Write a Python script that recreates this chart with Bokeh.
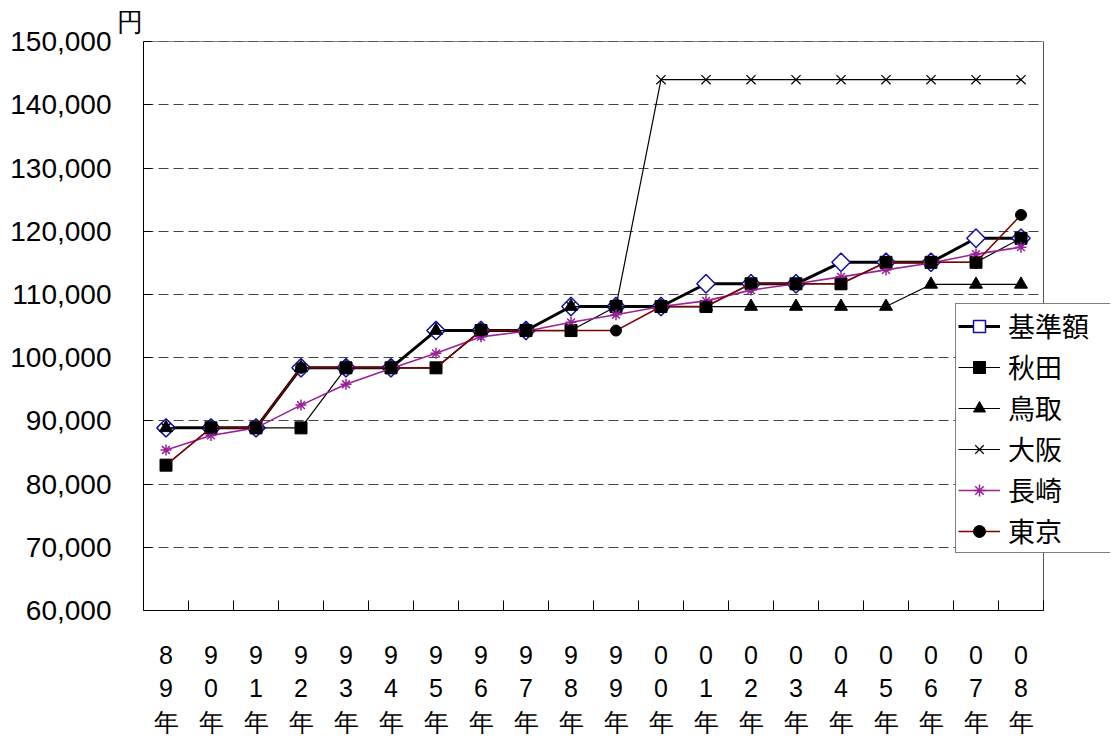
import math
from bokeh.plotting import figure
from bokeh.models import (FixedTicker, NumeralTickFormatter, Legend, LegendItem,
                          Range1d, Grid, Title, BoxAnnotation)
from bokeh.embed import file_html
from bokeh.resources import INLINE

# ---- data ----
years = ["89", "90", "91", "92", "93", "94", "95", "96", "97", "98",
         "99", "00", "01", "02", "03", "04", "05", "06", "07", "08"]
tick_labels = [y[0] + "\n" + y[1] + "\n年" for y in years]

kijun = [88900, 88900, 88900, 98400, 98400, 98400, 104300, 104300, 104300, 108100,
         108100, 108100, 111700, 111700, 111700, 115100, 115100, 115100, 118900, 118900]
akita = [83000, 88900, 88900, 88900, 98400, 98400, 98400, 104300, 104300, 104300,
         108100, 108100, 108100, 111700, 111700, 111700, 115100, 115100, 115100, 118900]
tottori = [88900, 88900, 88900, 98400, 98400, 98400, 104300, 104300, 104300, 108100,
           108100, 108100, 108100, 108100, 108100, 108100, 108100, 111600, 111600, 111600]
osaka = [88900, 88900, 88900, 98400, 98400, 98400, 98400, 104300, 104300, 108100,
         108100, 144000, 144000, 144000, 144000, 144000, 144000, 144000, 144000, 144000]
nagasaki = [85400, 87700, 88900, 92500, 95800, 98300, 100700, 103300, 104200, 105600,
            106800, 108100, 109000, 110700, 111700, 112800, 113900, 115000, 116400, 117500]
tokyo = [83000, 88900, 88900, 98400, 98400, 98400, 98400, 104300, 104300, 104300,
         104300, 108100, 108100, 111700, 111700, 111700, 115100, 115100, 115100, 122600]

series_names = ["基準額", "秋田", "鳥取", "大阪", "長崎", "東京"]
y_ticks = [60000, 70000, 80000, 90000, 100000, 110000, 120000, 130000, 140000, 150000]
unit_label = "円"

x = list(range(len(years)))
n = len(years)
cat_px = 45
frame_w = 967
x_end = -0.5 + frame_w / cat_px

p = figure(frame_width=frame_w, frame_height=569, output_backend="svg", toolbar_location=None,
           x_range=Range1d(-0.5, x_end), y_range=Range1d(60000, 150040),
           min_border_left=143, min_border_right=0, min_border_top=41, min_border_bottom=128)
p.background_fill_color = "white"
p.border_fill_color = "white"
p.outline_line_color = None

# x axis
p.xaxis.ticker = FixedTicker(ticks=x, minor_ticks=[i - 0.5 for i in range(n + 1)])
p.xaxis.bounds = (-0.5, n - 0.5)
p.xaxis.major_label_overrides = {i: lab for i, lab in zip(x, tick_labels)}
p.xaxis.major_tick_line_color = None
p.xaxis.minor_tick_in = 10
p.xaxis.minor_tick_out = 0
p.xaxis.minor_tick_line_color = "black"
p.xaxis.axis_line_color = "black"
p.xaxis.major_label_standoff = 24
p.xaxis.major_label_text_font = "Liberation Sans"
p.xaxis.major_label_text_font_size = "25px"
p.xaxis.major_label_text_color = "black"
p.xgrid.visible = False

# y axis
p.yaxis.ticker = FixedTicker(ticks=y_ticks)
p.yaxis.bounds = (60000, 150000)
p.yaxis.formatter = NumeralTickFormatter(format="0,0")
p.yaxis.major_tick_in = 8
p.yaxis.major_tick_out = 0
p.yaxis.minor_tick_line_color = None
p.yaxis.axis_line_color = "black"
p.yaxis.major_tick_line_color = "black"
p.yaxis.major_label_standoff = 32
p.yaxis.major_label_text_font = "Liberation Sans"
p.yaxis.major_label_text_font_size = "28px"
p.yaxis.major_label_text_color = "black"
p.ygrid.grid_line_color = "#444444"
p.ygrid.grid_line_dash = "10 5"
p.ygrid.grid_line_width = 1

has_cross = True
try:
    p.ygrid.cross_bounds = (-0.5, n - 0.5)
except Exception:
    has_cross = False

if not has_cross:
    p.add_layout(BoxAnnotation(left=n - 0.5, fill_color="white", fill_alpha=1,
                               line_color=None, level="underlay"))

# plot-area border: top and right edges
top_edge = Grid(dimension=1, ticker=FixedTicker(ticks=[150000]),
                grid_line_color="#111111", grid_line_width=1)
right_edge = Grid(dimension=0, ticker=FixedTicker(ticks=[n - 0.5]),
                  grid_line_color="#555555", grid_line_width=1)
if has_cross:
    top_edge.cross_bounds = (-0.5, n - 0.5)
    right_edge.cross_bounds = (60000, 150000)
p.add_layout(top_edge)
p.add_layout(right_edge)

# series
r = []
l0 = p.line(x, kijun, line_color="black", line_width=3)
s0 = p.scatter(x, kijun, marker="square", angle=math.pi / 4, size=13,
               fill_color="white", line_color="#1010a0", line_width=1.5)
r.append([l0, s0])

l1 = p.line(x, akita, line_color="black", line_width=1.2)
s1 = p.scatter(x, akita, marker="square", size=12, fill_color="black", line_color="black")
r.append([l1, s1])

l2 = p.line(x, tottori, line_color="black", line_width=1.2)
s2 = p.scatter(x, tottori, marker="triangle", size=13, fill_color="black", line_color="black")
r.append([l2, s2])

l3 = p.line(x, osaka, line_color="black", line_width=1.2)
s3 = p.scatter(x, osaka, marker="x", size=13, line_color="black", line_width=1.2)
r.append([l3, s3])

l4 = p.line(x, nagasaki, line_color="#992299", line_width=1.6)
s4 = p.scatter(x, nagasaki, marker="asterisk", size=11, line_color="#992299", line_width=1.5)
r.append([l4, s4])

l5 = p.line(x, tokyo, line_color="#800000", line_width=1.5)
s5 = p.scatter(x, tokyo, marker="circle", size=11, fill_color="black", line_color="black")
r.append([l5, s5])

items = [LegendItem(label=nm, renderers=rr) for nm, rr in zip(series_names, r)]
legend = Legend(items=items, location=(812, 57))
legend.label_text_font = "Noto Sans CJK JP"
legend.label_text_font_size = "27px"
legend.label_text_color = "black"
legend.glyph_width = 42
legend.glyph_height = 30
legend.label_height = 30
legend.label_width = 100
legend.label_standoff = 8
legend.spacing = 2
legend.padding = 2
legend.margin = 0
legend.border_line_color = "black"
legend.border_line_width = 1
legend.background_fill_color = "white"
legend.background_fill_alpha = 1
p.add_layout(legend, "center")

p.add_layout(Title(text=unit_label, align="left", offset=-27, standoff=9,
                   text_font="Liberation Sans", text_font_size="26px",
                   text_font_style="normal", text_color="black"), "above")

open("out.html", "w").write(file_html(p, INLINE))
